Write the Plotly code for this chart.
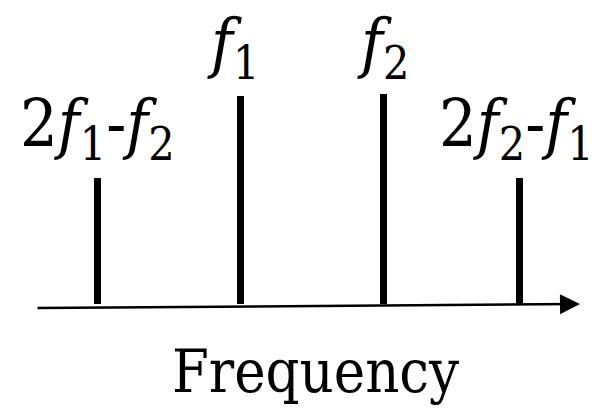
import plotly.graph_objects as go

# Spectral lines (arbitrary frequency units) and relative amplitudes
positions = [1.0, 2.0, 3.0, 3.95]
amplitudes = [0.60, 0.99, 1.00, 0.60]
labels = ["2<i>f</i><sub>1</sub>-<i>f</i><sub>2</sub>",
          "<i>f</i><sub>1</sub>",
          "<i>f</i><sub>2</sub>",
          "2<i>f</i><sub>2</sub>-<i>f</i><sub>1</sub>"]
label_x = [1.0, 1.947, 2.996, 3.933]
label_y = [0.84, 1.225, 1.225, 0.84]
axis_title = "Frequency"

FONT = "DejaVu Serif Condensed, DejaVu Serif"
W, H = 593, 406

fig = go.Figure()
fig.add_trace(go.Bar(x=positions, y=amplitudes, width=0.049,
                     marker=dict(color="black", line=dict(width=0)),
                     showlegend=False, hoverinfo="skip"))

for t, x, y in zip(labels, label_x, label_y):
    fig.add_annotation(x=x, y=y, text=t, showarrow=False,
                       font=dict(family=FONT, size=66, color="black"),
                       xanchor="center", yanchor="middle")

# axis arrow
fig.add_annotation(x=572/W, y=1 - 296/H, ax=28/W, ay=1 - 300/H,
                   xref="x domain", yref="y domain", axref="x domain", ayref="y domain",
                   showarrow=True, arrowhead=2, arrowsize=1.6, arrowwidth=2.5,
                   arrowcolor="black", text="")

fig.add_annotation(x=307/W, y=1 - 363/H, xref="paper", yref="paper",
                   text=axis_title, showarrow=False,
                   font=dict(family=FONT, size=59, color="black"),
                   xanchor="center", yanchor="middle")

fig.update_layout(width=W, height=H, margin=dict(l=0, r=0, t=0, b=0),
                  font=dict(family=FONT),
                  plot_bgcolor="white", paper_bgcolor="white",
                  xaxis=dict(range=[0.374, 4.521], visible=False, fixedrange=True),
                  yaxis=dict(range=[-110/210, 296/210], visible=False, fixedrange=True),
                  bargap=0)
fig.write_html("out.html")
